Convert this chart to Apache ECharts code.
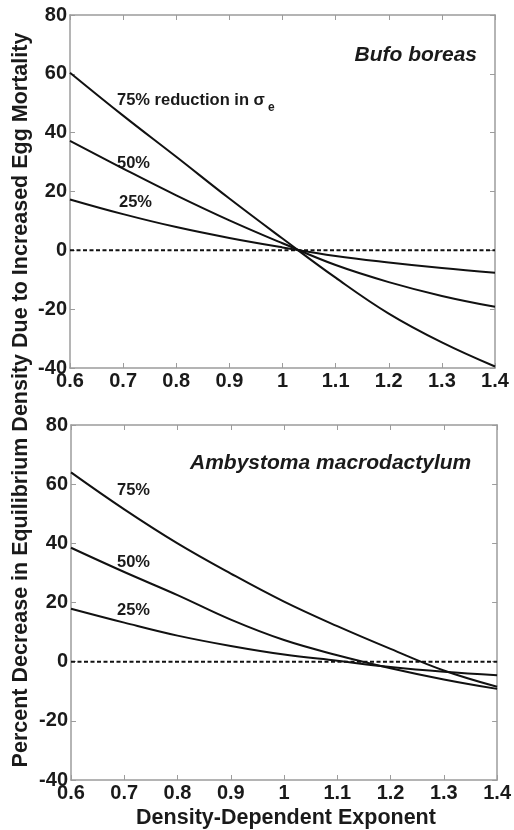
<!DOCTYPE html>
<html>
<head>
<meta charset="utf-8">
<script src="https://cdn.jsdelivr.net/npm/echarts@6/dist/echarts.min.js"></script>
<style>html,body{margin:0;padding:0;background:#fff}#c{width:514px;height:830px}</style>
</head>
<body>
<div id="c"></div>
<script>
// Data
const xValues = [0.6, 0.7, 0.8, 0.9, 1.0, 1.1, 1.2, 1.3, 1.4];
// Bufo boreas (top panel)
const bufo75 = [60.4, 45.8, 31.8, 17.6, 4.0, -9.3, -21.5, -31.3, -39.5];
const bufo50 = [37.2, 27.8, 18.7, 10.2, 2.4, -5.0, -10.8, -15.5, -19.2];
const bufo25 = [17.3, 12.3, 7.9, 4.2, 1.0, -1.9, -4.1, -6.0, -7.6];
// Ambystoma macrodactylum (bottom panel)
const amby75 = [64.0, 51.5, 40.0, 29.8, 20.3, 12.0, 4.3, -3.0, -8.5];
const amby50 = [38.5, 30.3, 22.5, 14.2, 7.3, 2.2, -2.2, -6.0, -9.2];
const amby25 = [17.9, 13.2, 8.8, 5.3, 2.4, 0.3, -1.8, -3.4, -4.6];
const zeroLevel = 0;
const xRange = [0.6, 1.4];
const yRange = [-40, 80];

const textColor = '#1a1a1a';
const frameColor = '#9c9c9c';
const font = 'Liberation Sans, Arial, sans-serif';

function mkX(gridIndex, position, showLabel) {
  return {
    type: 'value', gridIndex: gridIndex, position: position,
    min: xRange[0], max: xRange[1], interval: 0.1,
    axisLine: {show: true, onZero: false, lineStyle: {color: frameColor, width: 1.5}},
    axisTick: {show: true, inside: true, length: 5, lineStyle: {color: frameColor, width: 1}},
    axisLabel: {show: showLabel, margin: 3, fontSize: 20, fontWeight: 'bold', color: textColor, fontFamily: font},
    splitLine: {show: false}
  };
}
function mkY(gridIndex, position, showLabel) {
  return {
    type: 'value', gridIndex: gridIndex, position: position,
    min: yRange[0], max: yRange[1], interval: 20,
    axisLine: {show: true, onZero: false, lineStyle: {color: frameColor, width: 1.5}},
    axisTick: {show: true, inside: true, length: 5, lineStyle: {color: frameColor, width: 1}},
    axisLabel: {show: showLabel, margin: 3, fontSize: 20, fontWeight: 'bold', color: textColor, fontFamily: font},
    splitLine: {show: false}
  };
}
function pairs(arr) { return xValues.map((x, i) => [x, arr[i]]); }
function curve(arr, xi, yi) {
  return {
    type: 'line', xAxisIndex: xi, yAxisIndex: yi, data: pairs(arr),
    smooth: 0.4, showSymbol: false, silent: true,
    lineStyle: {color: '#111', width: 2}
  };
}
function zeroSeries(xi, yi) {
  return {
    type: 'line', xAxisIndex: xi, yAxisIndex: yi,
    data: [[xRange[0], zeroLevel], [xRange[1], zeroLevel]],
    showSymbol: false, silent: true,
    lineStyle: {color: '#111', width: 2, type: [4, 2.5]}
  };
}

const chart = echarts.init(document.getElementById('c'), null, {renderer: 'canvas'});
chart.setOption({
  animation: false,
  backgroundColor: '#fff',
  grid: [
    {left: 70, top: 15, width: 425, height: 353},
    {left: 71, top: 425, width: 430, height: 355}
  ],
  xAxis: [mkX(0, 'bottom', true), mkX(0, 'top', false), mkX(1, 'bottom', true), mkX(1, 'top', false)],
  yAxis: [mkY(0, 'left', true), mkY(0, 'right', false), mkY(1, 'left', true), mkY(1, 'right', false)],
  series: [
    zeroSeries(0, 0),
    curve(bufo75, 0, 0), curve(bufo50, 0, 0), curve(bufo25, 0, 0),
    zeroSeries(2, 2),
    curve(amby75, 2, 2), curve(amby50, 2, 2), curve(amby25, 2, 2)
  ],
  graphic: [
    {type: 'text', x: 21, y: 400, rotation: Math.PI / 2,
     style: {text: 'Percent Decrease in Equilibrium Density Due to Increased Egg Mortality', fill: textColor,
       font: 'bold 21.5px ' + font, textAlign: 'center', textVerticalAlign: 'middle'}},
    {type: 'text', x: 286, y: 818,
     style: {text: 'Density-Dependent Exponent', fill: textColor,
       font: 'bold 21.5px ' + font, textAlign: 'center', textVerticalAlign: 'middle'}},
    {type: 'text', x: 477, y: 55,
     style: {text: 'Bufo boreas', fill: textColor, font: 'italic bold 21px ' + font, textAlign: 'right', textVerticalAlign: 'middle'}},
    {type: 'text', x: 117, y: 100,
     style: {text: '75% reduction in σ', fill: textColor, font: 'bold 16.5px ' + font, textAlign: 'left', textVerticalAlign: 'middle'}},
    {type: 'text', x: 268, y: 108,
     style: {text: 'e', fill: textColor, font: 'bold 12px ' + font, textAlign: 'left', textVerticalAlign: 'middle'}},
    {type: 'text', x: 117, y: 163,
     style: {text: '50%', fill: textColor, font: 'bold 16.5px ' + font, textAlign: 'left', textVerticalAlign: 'middle'}},
    {type: 'text', x: 119, y: 202,
     style: {text: '25%', fill: textColor, font: 'bold 16.5px ' + font, textAlign: 'left', textVerticalAlign: 'middle'}},
    {type: 'text', x: 190, y: 463,
     style: {text: 'Ambystoma macrodactylum', fill: textColor, font: 'italic bold 21px ' + font, textAlign: 'left', textVerticalAlign: 'middle'}},
    {type: 'text', x: 117, y: 490,
     style: {text: '75%', fill: textColor, font: 'bold 16.5px ' + font, textAlign: 'left', textVerticalAlign: 'middle'}},
    {type: 'text', x: 117, y: 562,
     style: {text: '50%', fill: textColor, font: 'bold 16.5px ' + font, textAlign: 'left', textVerticalAlign: 'middle'}},
    {type: 'text', x: 117, y: 610,
     style: {text: '25%', fill: textColor, font: 'bold 16.5px ' + font, textAlign: 'left', textVerticalAlign: 'middle'}}
  ]
});
</script>
</body>
</html>
